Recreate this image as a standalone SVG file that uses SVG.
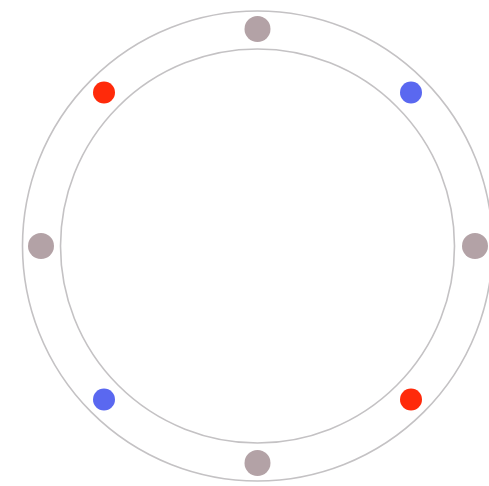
<svg xmlns="http://www.w3.org/2000/svg" width="489" height="486" viewBox="0 0 489 486">
<style>
.ring{fill:none;stroke:#c4c2c4;stroke-width:1.6}
.g{fill:#b3a2a6}
.r{fill:#ff2a0a}
.b{fill:#5a68f0}
</style>
<rect width="489" height="486" fill="#ffffff"/>
<g id="rings">
<circle class="ring" cx="257.5" cy="246" r="235"/>
<circle class="ring" cx="257.5" cy="246" r="197"/>
</g>
<g id="dot-top"><circle class="g" cx="257.5" cy="29" r="13"/></g>
<g id="dot-bottom"><circle class="g" cx="257.5" cy="463" r="13"/></g>
<g id="dot-left"><circle class="g" cx="41" cy="246" r="13"/></g>
<g id="dot-right"><circle class="g" cx="475" cy="246" r="13"/></g>
<g id="dot-tl"><circle class="r" cx="104" cy="92.5" r="11"/></g>
<g id="dot-tr"><circle class="b" cx="411" cy="92.5" r="11"/></g>
<g id="dot-bl"><circle class="b" cx="104" cy="399.5" r="11"/></g>
<g id="dot-br"><circle class="r" cx="411" cy="399.5" r="11"/></g>
</svg>
